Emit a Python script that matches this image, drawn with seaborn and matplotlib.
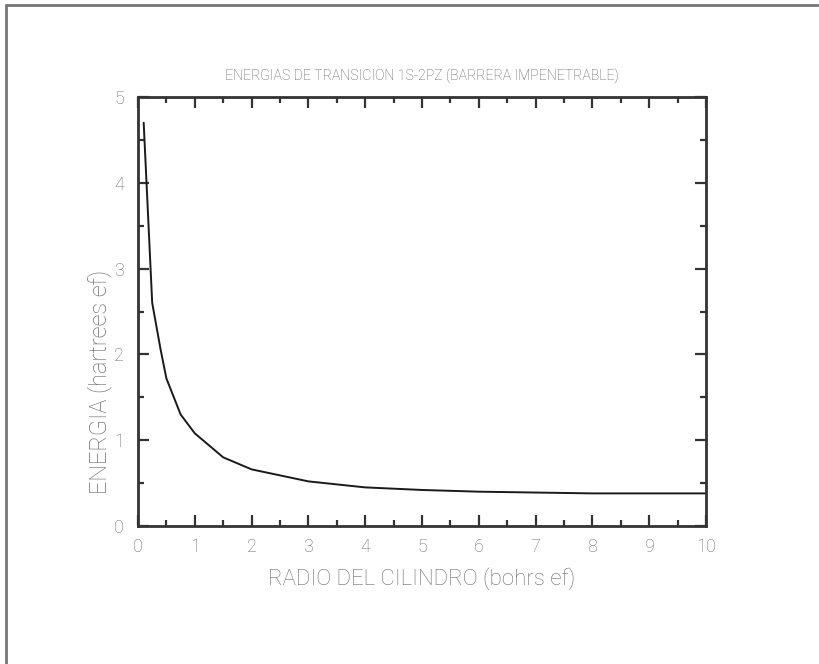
import matplotlib
matplotlib.use("Agg")
import matplotlib.pyplot as plt
from matplotlib.lines import Line2D
from matplotlib.ticker import MultipleLocator
import pandas as pd
import seaborn as sns

# Cylinder radius (effective bohrs) and 1s-2pz transition energy (effective hartrees)
radio = [0.1, 0.25, 0.4, 0.5, 0.75, 1.0, 1.5, 2.0, 3.0, 4.0, 5.0, 6.0, 7.0, 8.0, 9.0, 10.0]
energia = [4.70, 2.60, 2.05, 1.72, 1.30, 1.08, 0.80, 0.66, 0.52, 0.45, 0.42, 0.40, 0.39, 0.38, 0.38, 0.38]

x_ticks = [0, 1, 2, 3, 4, 5, 6, 7, 8, 9, 10]
y_ticks = [0, 1, 2, 3, 4, 5]

titulo = "ENERGIAS DE TRANSICION 1S-2PZ (BARRERA IMPENETRABLE)"
etiqueta_x = "RADIO DEL CILINDRO (bohrs ef)"
etiqueta_y = "ENERGIA (hartrees ef)"

sns.set_style("ticks")
plt.rcParams["font.family"] = ["Roboto", "DejaVu Sans"]

df = pd.DataFrame({"radio": radio, "energia": energia})

fig = plt.figure(figsize=(8.2, 6.64), dpi=100)
ax = fig.add_axes([138 / 820, 1 - 526 / 664, (706 - 138) / 820, (526 - 97) / 664])

sns.lineplot(data=df, x="radio", y="energia", ax=ax, color="#1a1a1a", linewidth=1.4)

ax.set_xlim(0, 10)
ax.set_ylim(0, 5)
ax.set_xticks(x_ticks)
ax.set_yticks(y_ticks)
ax.xaxis.set_minor_locator(MultipleLocator(0.5))
ax.yaxis.set_minor_locator(MultipleLocator(0.5))

label_color = "#6e6e6e"
ax.tick_params(which="both", direction="in", top=True, right=True,
               color="#333333", width=1.6)
ax.tick_params(which="major", length=8, labelsize=13, labelcolor=label_color, pad=9)
ax.tick_params(which="minor", length=4)
ax.tick_params(axis="y", which="major", pad=10)
for lab in ax.get_xticklabels() + ax.get_yticklabels():
    lab.set_fontweight("light")

for sp in ax.spines.values():
    sp.set_color("#333333")
    sp.set_linewidth(2)

ax.set_title(titulo, fontsize=10.2, color="#5e5e5e", pad=12, fontweight="light")
ax.set_xlabel(etiqueta_x, fontsize=16, color=label_color, labelpad=8, fontweight="light")
ax.set_ylabel(etiqueta_y, fontsize=17, color=label_color, fontweight="light")
# the energy label sits below the middle of the axis
ax.yaxis.set_label_coords(-0.046, 0.336)

# page frame (left and top edges)
fig.add_artist(Line2D([6 / 820, 6 / 820], [0, 1 - 5 / 664], transform=fig.transFigure,
                      color="#777777", linewidth=2))
fig.add_artist(Line2D([6 / 820, 1], [1 - 5 / 664, 1 - 5 / 664], transform=fig.transFigure,
                      color="#777777", linewidth=2))

fig.savefig("out.png", dpi=100)
